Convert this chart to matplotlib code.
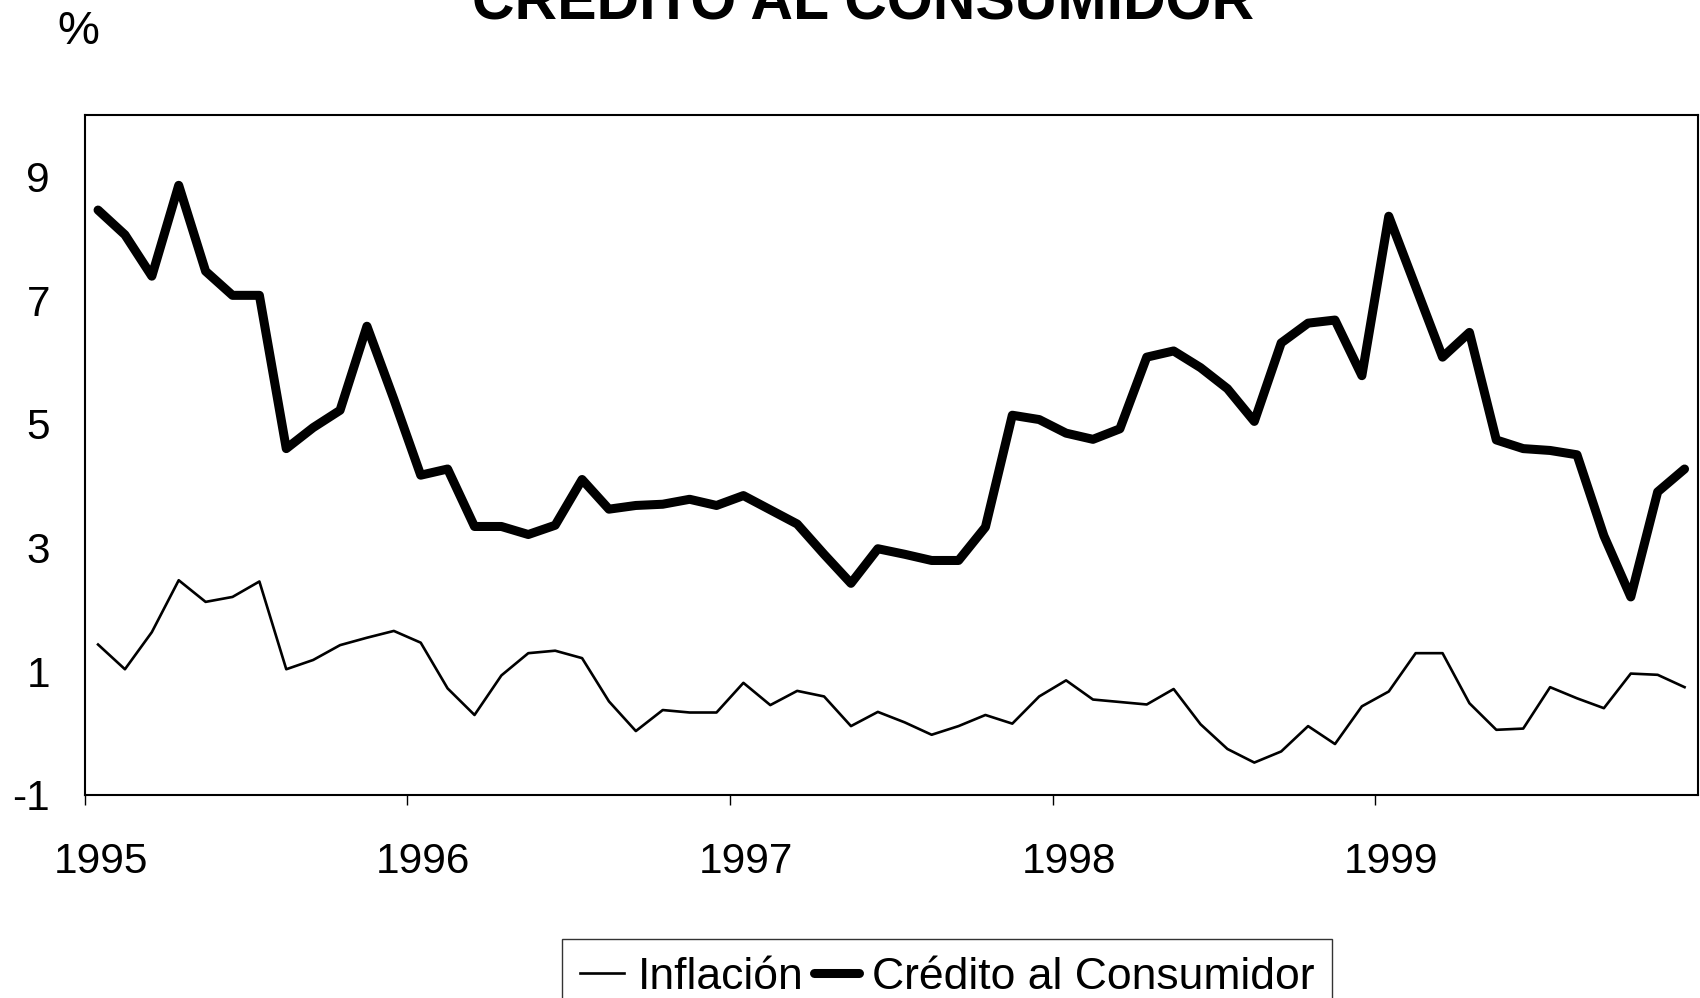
import numpy as np
import matplotlib
matplotlib.use('Agg')
import matplotlib.pyplot as plt
from matplotlib.transforms import ScaledTranslation

# Datos mensuales 1995-1999 (variación %)
anios = ['1995', '1996', '1997', '1998', '1999']
inflacion = [
    1.43, 1.03, 1.63, 2.47, 2.12, 2.20, 2.45, 1.03, 1.18, 1.42, 1.54, 1.65,
    1.46, 0.72, 0.29, 0.93, 1.29, 1.33, 1.21, 0.51, 0.03, 0.37, 0.33, 0.33,
    0.81, 0.45, 0.68, 0.59, 0.11, 0.34, 0.17, -0.03, 0.11, 0.29, 0.15, 0.59,
    0.85, 0.54, 0.50, 0.46, 0.71, 0.14, -0.26, -0.48, -0.30, 0.11, -0.18, 0.43,
    0.67, 1.29, 1.29, 0.48, 0.05, 0.07, 0.74, 0.56, 0.40, 0.96, 0.94, 0.74,
]
credito = [
    8.46, 8.06, 7.39, 8.86, 7.47, 7.08, 7.08, 4.60, 4.94, 5.22, 6.58, 5.40,
    4.17, 4.27, 3.34, 3.34, 3.21, 3.36, 4.10, 3.62, 3.68, 3.70, 3.78, 3.68,
    3.84, 3.61, 3.38, 2.89, 2.42, 2.98, 2.89, 2.79, 2.79, 3.33, 5.14, 5.07,
    4.85, 4.75, 4.92, 6.08, 6.18, 5.91, 5.57, 5.04, 6.31, 6.63, 6.68, 5.78,
    8.36, 7.22, 6.08, 6.48, 4.74, 4.60, 4.57, 4.50, 3.19, 2.20, 3.90, 4.27,
]
yticks = [-1, 1, 3, 5, 7, 9]

plt.rcParams['font.family'] = ['Liberation Sans', 'DejaVu Sans']

fig = plt.figure(figsize=(17, 9.98), dpi=100)
ax = fig.add_axes([84.6 / 1700, 0.2037, (1698 - 84.6) / 1700, 0.6812])

x = np.arange(len(credito)) + 0.5
ax.plot(x, inflacion, color='black', lw=1.9, label='Inflación')
ax.plot(x, credito, color='black', lw=6.5, solid_joinstyle='round',
        solid_capstyle='round', label='Crédito al Consumidor')

ax.set_xlim(0, len(credito))
ax.set_ylim(-1, 10)
ax.set_yticks(yticks)
ax.set_yticklabels([str(v) for v in yticks])
ax.set_xticks(np.arange(0, len(credito), 12))
ax.set_xticklabels(anios)

ax.tick_params(axis='y', length=0, pad=25, labelsize=30.5)
ax.tick_params(axis='x', direction='out', length=7, width=1, pad=27, labelsize=30.5)
for lab in ax.get_xticklabels():
    lab.set_transform(lab.get_transform() + ScaledTranslation(0.16, 0, fig.dpi_scale_trans))

for s in ax.spines.values():
    s.set_color('black')
    s.set_linewidth(1.5)

# titulo recortado arriba, como en el original
fig.text(863 / 1700, 1 - 19.5 / 998, 'CRÉDITO AL CONSUMIDOR', ha='center', va='baseline',
         fontsize=42.5, fontweight='bold')
fig.text(78 / 1700, 1 - 32 / 998, '%', ha='center', va='center', fontsize=34)

leg = fig.legend(loc='upper left', bbox_to_anchor=(562 / 1700, 1 - 939 / 998), ncol=2,
                 fontsize=32, frameon=True, fancybox=False, edgecolor='black',
                 handlelength=1.0, handletextpad=0.3, columnspacing=0.25,
                 borderpad=0.4, borderaxespad=0)
leg.get_frame().set_linewidth(1)

fig.savefig('out.png', dpi=100)
